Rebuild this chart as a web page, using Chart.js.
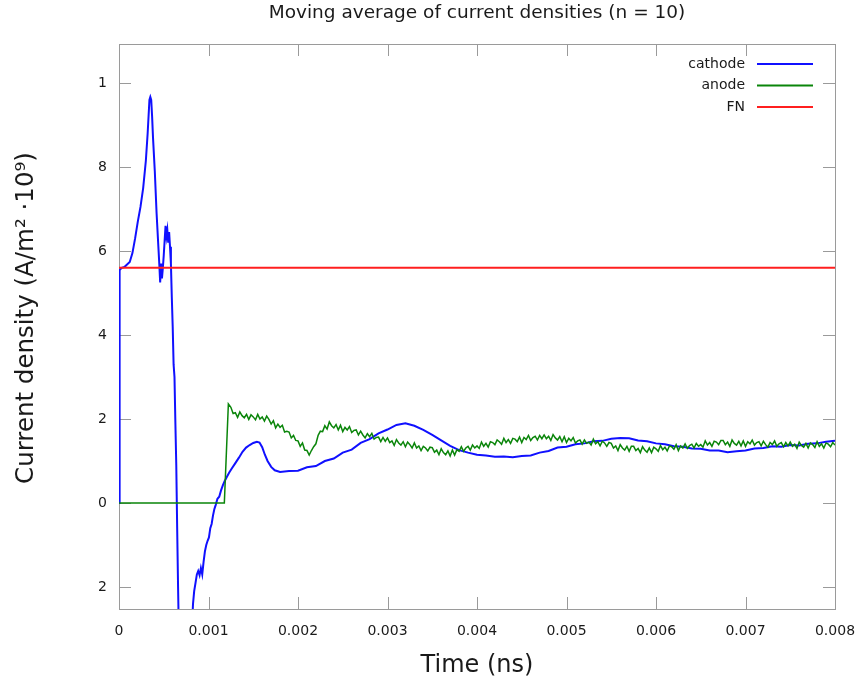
<!DOCTYPE html>
<html>
<head>
<meta charset="utf-8">
<title>Current densities</title>
<script src="https://cdn.jsdelivr.net/npm/chart.js@4.4.1/dist/chart.umd.min.js"></script>
<style>
  html, body { margin: 0; padding: 0; background: #fff; }
  #plot { display: block; }
</style>
</head>
<body>
<canvas id="plot" width="857" height="681"></canvas>
<script>
// moving average (n = 10) of the current densities, A/m^2 * 1e9, time in ns
var cathodeT = [
  0, 0.000004, 0.00001, 0.00003, 0.00006, 0.00009, 0.00012, 0.00015, 0.00018, 0.00021,
  0.00024, 0.00027, 0.0003, 0.00032, 0.00034, 0.00035, 0.00036, 0.00037, 0.00038, 0.0004,
  0.00042, 0.00044, 0.00045, 0.00046, 0.00047, 0.00048, 0.00049, 0.0005, 0.00051, 0.00052,
  0.00053, 0.00054, 0.00055, 0.00056, 0.00057, 0.00058, 0.00059, 0.0006, 0.00061, 0.00062,
  0.00063, 0.00064, 0.00065, 0.00066, 0.00068, 0.00075, 0.00081, 0.000827, 0.00084, 0.000855,
  0.00087, 0.000885, 0.0009, 0.000915, 0.00093, 0.000945, 0.00096, 0.000975, 0.00099, 0.001005,
  0.00102, 0.001035, 0.00105, 0.001065, 0.00108, 0.0011, 0.00112, 0.00114, 0.00116, 0.00118,
  0.0012, 0.00123, 0.00126, 0.0013, 0.00134, 0.00138, 0.00142, 0.00146, 0.0015, 0.00154,
  0.00157, 0.0016, 0.00163, 0.00166, 0.0017, 0.00174, 0.0018, 0.0019, 0.002, 0.0021,
  0.0022, 0.0023, 0.0024, 0.0025, 0.0026, 0.0027, 0.0028, 0.0029, 0.003, 0.0031,
  0.0032, 0.0033, 0.0034, 0.0035, 0.0036, 0.0037, 0.0038, 0.0039, 0.004, 0.0041,
  0.0042, 0.0043, 0.0044, 0.0045, 0.0046, 0.0047, 0.0048, 0.0049, 0.005, 0.0051,
  0.0052, 0.0053, 0.0054, 0.0055, 0.0056, 0.0057, 0.0058, 0.0059, 0.006, 0.0061,
  0.0062, 0.0063, 0.0064, 0.0065, 0.0066, 0.0067, 0.0068, 0.0069, 0.007, 0.0071,
  0.0072, 0.0073, 0.0074, 0.0075, 0.0076, 0.0077, 0.0078, 0.0079, 0.008
];
var cathodeJ = [
  0, 5.5, 5.55, 5.6, 5.62, 5.68, 5.74, 5.95, 6.3, 6.7,
  7.05, 7.5, 8.15, 8.8, 9.6, 9.67, 9.6, 9.2, 8.7, 7.9,
  6.9, 6.1, 5.7, 5.25, 5.7, 5.35, 5.6, 5.9, 6.25, 6.6,
  6.35, 6.5, 6.2, 6.45, 6.1, 5.7, 4.9, 4.2, 3.3, 3.0,
  1.9, 0.9, -0.6, -2.0, -4.5, -6.0, -3.2, -2.4, -2.1, -1.9,
  -1.7, -1.62, -1.72, -1.55, -1.7, -1.4, -1.15, -1.0, -0.9, -0.82,
  -0.6, -0.5, -0.3, -0.15, -0.05, 0.1, 0.15, 0.3, 0.42, 0.52,
  0.6, 0.72, 0.82, 0.95, 1.08, 1.22, 1.32, 1.38, 1.43, 1.46,
  1.44, 1.33, 1.15, 1.0, 0.86, 0.78, 0.74, 0.76, 0.77, 0.85,
  0.88, 1.00, 1.06, 1.20, 1.27, 1.43, 1.52, 1.66, 1.75, 1.86,
  1.90, 1.84, 1.74, 1.62, 1.49, 1.36, 1.26, 1.20, 1.15, 1.13,
  1.10, 1.11, 1.09, 1.12, 1.13, 1.20, 1.24, 1.32, 1.34, 1.40,
  1.42, 1.47, 1.48, 1.53, 1.55, 1.54, 1.49, 1.47, 1.42, 1.40,
  1.35, 1.34, 1.30, 1.29, 1.25, 1.25, 1.21, 1.23, 1.25, 1.30,
  1.31, 1.35, 1.34, 1.38, 1.37, 1.41, 1.42, 1.46, 1.48
];

var anodeT = [
  0, 0.001177, 0.001222,
  0.00125, 0.001275, 0.0013, 0.001325, 0.00135, 0.001375, 0.0014, 0.001425, 0.00145, 0.001475,
  0.0015, 0.001525, 0.00155, 0.001575, 0.0016, 0.001625, 0.00165, 0.001675, 0.0017, 0.001725,
  0.00175, 0.001775, 0.0018, 0.001825, 0.00185, 0.001875, 0.0019, 0.001925, 0.00195, 0.001975,
  0.002, 0.002025, 0.00205, 0.002075, 0.0021, 0.002125, 0.00215, 0.002175, 0.0022, 0.002225,
  0.00225, 0.002275, 0.0023, 0.002325, 0.00235, 0.002375, 0.0024, 0.002425, 0.00245, 0.002475,
  0.0025, 0.002525, 0.00255, 0.002575, 0.0026, 0.002625, 0.00265, 0.002675, 0.0027, 0.002725,
  0.00275, 0.002775, 0.0028, 0.002825, 0.00285, 0.002875, 0.0029, 0.002925, 0.00295, 0.002975,
  0.003, 0.003025, 0.00305, 0.003075, 0.0031, 0.003125, 0.00315, 0.003175, 0.0032, 0.003225,
  0.00325, 0.003275, 0.0033, 0.003325, 0.00335, 0.003375, 0.0034, 0.003425, 0.00345, 0.003475,
  0.0035, 0.003525, 0.00355, 0.003575, 0.0036, 0.003625, 0.00365, 0.003675, 0.0037, 0.003725,
  0.00375, 0.003775, 0.0038, 0.003825, 0.00385, 0.003875, 0.0039, 0.003925, 0.00395, 0.003975,
  0.004, 0.004025, 0.00405, 0.004075, 0.0041, 0.004125, 0.00415, 0.004175, 0.0042, 0.004225,
  0.00425, 0.004275, 0.0043, 0.004325, 0.00435, 0.004375, 0.0044, 0.004425, 0.00445, 0.004475,
  0.0045, 0.004525, 0.00455, 0.004575, 0.0046, 0.004625, 0.00465, 0.004675, 0.0047, 0.004725,
  0.00475, 0.004775, 0.0048, 0.004825, 0.00485, 0.004875, 0.0049, 0.004925, 0.00495, 0.004975,
  0.005, 0.005025, 0.00505, 0.005075, 0.0051, 0.005125, 0.00515, 0.005175, 0.0052, 0.005225,
  0.00525, 0.005275, 0.0053, 0.005325, 0.00535, 0.005375, 0.0054, 0.005425, 0.00545, 0.005475,
  0.0055, 0.005525, 0.00555, 0.005575, 0.0056, 0.005625, 0.00565, 0.005675, 0.0057, 0.005725,
  0.00575, 0.005775, 0.0058, 0.005825, 0.00585, 0.005875, 0.0059, 0.005925, 0.00595, 0.005975,
  0.006, 0.006025, 0.00605, 0.006075, 0.0061, 0.006125, 0.00615, 0.006175, 0.0062, 0.006225,
  0.00625, 0.006275, 0.0063, 0.006325, 0.00635, 0.006375, 0.0064, 0.006425, 0.00645, 0.006475,
  0.0065, 0.006525, 0.00655, 0.006575, 0.0066, 0.006625, 0.00665, 0.006675, 0.0067, 0.006725,
  0.00675, 0.006775, 0.0068, 0.006825, 0.00685, 0.006875, 0.0069, 0.006925, 0.00695, 0.006975,
  0.007, 0.007025, 0.00705, 0.007075, 0.0071, 0.007125, 0.00715, 0.007175, 0.0072, 0.007225,
  0.00725, 0.007275, 0.0073, 0.007325, 0.00735, 0.007375, 0.0074, 0.007425, 0.00745, 0.007475,
  0.0075, 0.007525, 0.00755, 0.007575, 0.0076, 0.007625, 0.00765, 0.007675, 0.0077, 0.007725,
  0.00775, 0.007775, 0.0078, 0.007825, 0.00785, 0.007875, 0.0079, 0.007925, 0.00795, 0.007975,
  0.008
];
var anodeJ = [
  0, 0, 2.36,
  2.28, 2.13, 2.15, 2.04, 2.17, 2.08, 2.03, 2.11, 1.99, 2.10,
  2.05, 1.98, 2.11, 2.00, 2.05, 1.95, 2.07, 1.99, 1.88, 1.96,
  1.79, 1.88, 1.80, 1.85, 1.69, 1.71, 1.69, 1.55, 1.61, 1.49,
  1.48, 1.35, 1.43, 1.26, 1.25, 1.14, 1.25, 1.34, 1.41, 1.61,
  1.71, 1.70, 1.84, 1.76, 1.93, 1.84, 1.79, 1.87, 1.74, 1.85,
  1.70, 1.80, 1.74, 1.82, 1.68, 1.73, 1.74, 1.62, 1.71, 1.62,
  1.55, 1.65, 1.58, 1.66, 1.52, 1.56, 1.57, 1.46, 1.56, 1.47,
  1.55, 1.44, 1.48, 1.37, 1.51, 1.43, 1.38, 1.46, 1.34, 1.45,
  1.39, 1.31, 1.43, 1.31, 1.36, 1.25, 1.35, 1.31, 1.24, 1.33,
  1.32, 1.21, 1.26, 1.15, 1.29, 1.20, 1.15, 1.24, 1.12, 1.26,
  1.14, 1.27, 1.23, 1.34, 1.23, 1.31, 1.35, 1.26, 1.38, 1.31,
  1.36, 1.30, 1.45, 1.35, 1.42, 1.33, 1.46, 1.44, 1.39, 1.50,
  1.46, 1.40, 1.54, 1.44, 1.51, 1.42, 1.54, 1.52, 1.46, 1.57,
  1.44, 1.56, 1.51, 1.61, 1.49, 1.56, 1.59, 1.50, 1.61, 1.53,
  1.62, 1.53, 1.59, 1.49, 1.63, 1.55, 1.50, 1.58, 1.46, 1.58,
  1.44, 1.54, 1.48, 1.56, 1.43, 1.48, 1.50, 1.40, 1.50, 1.42,
  1.45, 1.38, 1.52, 1.41, 1.46, 1.36, 1.47, 1.43, 1.35, 1.44,
  1.42, 1.31, 1.36, 1.25, 1.39, 1.31, 1.26, 1.35, 1.23, 1.35,
  1.35, 1.25, 1.30, 1.20, 1.34, 1.26, 1.21, 1.31, 1.20, 1.33,
  1.29, 1.23, 1.37, 1.27, 1.33, 1.24, 1.36, 1.34, 1.28, 1.39,
  1.25, 1.36, 1.31, 1.41, 1.30, 1.37, 1.40, 1.31, 1.42, 1.35,
  1.39, 1.33, 1.48, 1.38, 1.44, 1.35, 1.47, 1.45, 1.39, 1.49,
  1.49, 1.39, 1.45, 1.35, 1.50, 1.42, 1.38, 1.47, 1.36, 1.48,
  1.35, 1.46, 1.41, 1.50, 1.38, 1.44, 1.46, 1.36, 1.47, 1.39,
  1.33, 1.44, 1.39, 1.48, 1.35, 1.41, 1.44, 1.34, 1.44, 1.36,
  1.45, 1.35, 1.40, 1.30, 1.45, 1.37, 1.33, 1.42, 1.31, 1.43,
  1.39, 1.32, 1.46, 1.35, 1.41, 1.31, 1.43, 1.40, 1.34, 1.44,
  1.38
];

var fnT = [0, 0.008];
var fnJ = [5.6, 5.6];

var xTicks = [0, 0.001, 0.002, 0.003, 0.004, 0.005, 0.006, 0.007, 0.008];
var xTickText = ['0', '0.001', '0.002', '0.003', '0.004', '0.005', '0.006', '0.007', '0.008'];
var yTicks = [10, 8, 6, 4, 2, 0, -2];
var yTickText = ['1', '8', '6', '4', '2', '0', '2'];

var titleText = 'Moving average of current densities (n = 10)';
var xTitle = 'Time (ns)';
var yTitle = 'Current density (A/m² ·10⁹)';

var FONT = "'DejaVu Sans', sans-serif";
Chart.defaults.font.family = FONT;

function pts(ts, vs) {
  return ts.map(function (t, i) { return { x: t, y: vs[i] }; });
}

// gnuplot-like box: grey border with inward tick marks on all four sides
var frameTicks = {
  id: 'frameTicks',
  beforeDatasetsDraw: function (chart) {
    var ctx = chart.ctx, a = chart.chartArea;
    var xs = chart.scales.x, ys = chart.scales.y;
    var len = 12;
    ctx.save();
    ctx.strokeStyle = '#9a9a9a';
    ctx.lineWidth = 1;
    ctx.beginPath();
    ys.ticks.forEach(function (t) {
      var py = Math.round(ys.getPixelForValue(t.value)) + 0.5;
      ctx.moveTo(a.left, py); ctx.lineTo(a.left + len, py);
      ctx.moveTo(a.right, py); ctx.lineTo(a.right - len, py);
    });
    xs.ticks.forEach(function (t) {
      var px = Math.round(xs.getPixelForValue(t.value)) + 0.5;
      ctx.moveTo(px, a.bottom); ctx.lineTo(px, a.bottom - len);
      ctx.moveTo(px, a.top); ctx.lineTo(px, a.top + len);
    });
    ctx.stroke();
    ctx.strokeRect(Math.round(a.left) + 0.5, Math.round(a.top) + 0.5,
      Math.round(a.right - a.left), Math.round(a.bottom - a.top));
    ctx.restore();
  }
};

// titles and the key in the upper right corner
var labelsAndKey = {
  id: 'labelsAndKey',
  afterDatasetsDraw: function (chart) {
    var ctx = chart.ctx, a = chart.chartArea;
    var cx = (a.left + a.right) / 2;
    ctx.save();
    ctx.fillStyle = '#1a1a1a';
    ctx.textAlign = 'center';
    ctx.textBaseline = 'middle';
    ctx.font = '18.5px ' + FONT;
    ctx.fillText(titleText, cx, 13);

    ctx.textBaseline = 'alphabetic';
    ctx.font = '24px ' + FONT;
    ctx.fillText(xTitle, cx, 672);

    ctx.save();
    ctx.font = '24.5px ' + FONT;
    ctx.translate(33, 318);
    ctx.rotate(-Math.PI / 2);
    ctx.fillText(yTitle, 0, 0);
    ctx.restore();

    ctx.font = '14px ' + FONT;
    ctx.textAlign = 'right';
    ctx.textBaseline = 'middle';
    chart.data.datasets.forEach(function (ds, i) {
      var yy = a.top + 20 + i * 21.5;
      ctx.fillStyle = '#1a1a1a';
      ctx.fillText(ds.label, a.right - 90, yy);
      ctx.strokeStyle = ds.borderColor;
      ctx.lineWidth = 2;
      ctx.beginPath();
      ctx.moveTo(a.right - 78, yy);
      ctx.lineTo(a.right - 22, yy);
      ctx.stroke();
    });
    ctx.restore();
  }
};

new Chart(document.getElementById('plot'), {
  type: 'line',
  data: {
    datasets: [
      { label: 'cathode', data: pts(cathodeT, cathodeJ), borderColor: '#1010ff', borderWidth: 2, order: 3 },
      { label: 'anode', data: pts(anodeT, anodeJ), borderColor: '#0a850a', borderWidth: 1.5, order: 2 },
      { label: 'FN', data: pts(fnT, fnJ), borderColor: '#ff1f1f', borderWidth: 2, order: 1 }
    ]
  },
  options: {
    responsive: false,
    animation: false,
    events: [],
    layout: { padding: { top: 44, right: 22, left: 0, bottom: 0 } },
    elements: { point: { radius: 0 }, line: { tension: 0, fill: false } },
    plugins: {
      legend: { display: false },
      tooltip: { enabled: false },
      title: { display: false }
    },
    scales: {
      x: {
        type: 'linear',
        min: 0,
        max: 0.008,
        grid: { display: false, drawTicks: false },
        border: { display: false },
        ticks: {
          padding: 14,
          autoSkip: false,
          maxRotation: 0,
          color: '#1a1a1a',
          font: { size: 14 },
          callback: function (v, i) { return xTickText[i]; }
        },
        afterBuildTicks: function (s) { s.ticks = xTicks.map(function (v) { return { value: v }; }); },
        afterFit: function (s) { s.height = 72; s.paddingLeft = 0; s.paddingRight = 0; }
      },
      y: {
        type: 'linear',
        min: -2.524,
        max: 10.93,
        grid: { display: false, drawTicks: false },
        border: { display: false },
        ticks: {
          padding: 12,
          autoSkip: false,
          color: '#1a1a1a',
          font: { size: 14 },
          callback: function (v, i) { return yTickText[i]; }
        },
        afterBuildTicks: function (s) { s.ticks = yTicks.map(function (v) { return { value: v }; }); },
        afterFit: function (s) { s.width = 119; s.paddingTop = 0; s.paddingBottom = 0; }
      }
    }
  },
  plugins: [frameTicks, labelsAndKey]
});
</script>
</body>
</html>
